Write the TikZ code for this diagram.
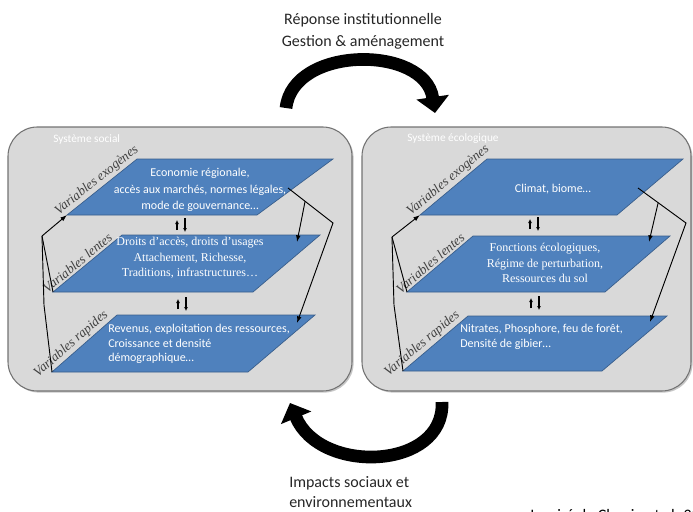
\documentclass[tikz,border=0pt]{standalone}
\usepackage{fontspec}
\setmainfont{Carlito}
\newfontfamily\tnr{Liberation Serif}
\usepackage{xcolor}
\usetikzlibrary{calc,arrows.meta,shadows}

\definecolor{panelgray}{RGB}{217,217,217}
\definecolor{planblue}{RGB}{79,129,189}
\definecolor{planedge}{RGB}{56,93,138}
\definecolor{labgray}{RGB}{38,38,38}

\begin{document}
\begin{tikzpicture}[x=0.75pt,y=-0.75pt,
  panel/.style={draw=black!55,fill=panelgray,rounded corners=22pt,line width=0.8pt,
    drop shadow={shadow xshift=1.2pt,shadow yshift=-1.2pt,opacity=0.45}},
  plan/.style={fill=planblue,draw=planedge,line width=0.5pt},
  pltext/.style={text=white,font=\fontsize{9}{12.4}\selectfont,align=center,inner sep=0pt},
  plserif/.style={text=white,font=\tnr\fontsize{9}{11.5}\selectfont,align=center,inner sep=0pt},
  varlab/.style={text=black!75,font=\tnr\itshape\fontsize{10}{11}\selectfont,inner sep=1.5pt},
  systitle/.style={text=white,font=\fontsize{8.5}{9}\selectfont,anchor=west,inner sep=0pt},
  link/.style={line width=0.7pt},
  linkto/.style={link,-{Latex[length=5pt,width=3.5pt]}},
  updown/.style={line width=1.1pt,-{Latex[length=3pt,width=3pt]}},
  bigarrow/.style={line width=9.5pt,-{Triangle[width=24pt,length=12pt]}},
  outlab/.style={text=labgray,font=\fontsize{12}{16.5}\selectfont,inner sep=0pt}]
\useasboundingbox (0,0) rectangle (693,511);
\clip (0,0) rectangle (693,511);

% panels
\draw[panel] (8,127) rectangle (352,391);
\draw[panel] (362,127) rectangle (691,391);
\node[systitle] (soc) at (53,139) {Système social};
\node[systitle] (eco) at (407,139) {Système écologique};

% social planes
\coordinate (st-bl) at (67,215);  \coordinate (st-br) at (257,215);
\coordinate (st-tr) at (333,159); \coordinate (st-tl) at (137,159);
\coordinate (sm-bl) at (53,292);  \coordinate (sm-br) at (253,292);
\coordinate (sm-tr) at (320,235); \coordinate (sm-tl) at (122,235);
\coordinate (sr-bl) at (52,372);  \coordinate (sr-br) at (248,372);
\coordinate (sr-tr) at (315,315); \coordinate (sr-tl) at (117,315);
\filldraw[plan] (st-bl) -- (st-br) -- (st-tr) -- (st-tl) -- cycle;
\filldraw[plan] (sm-bl) -- (sm-br) -- (sm-tr) -- (sm-tl) -- cycle;
\filldraw[plan] (sr-bl) -- (sr-br) -- (sr-tr) -- (sr-tl) -- cycle;

% ecological planes
\coordinate (et-bl) at (420,215); \coordinate (et-br) at (617,215);
\coordinate (et-tr) at (683,159); \coordinate (et-tl) at (487,159);
\coordinate (em-bl) at (407,292); \coordinate (em-br) at (605,292);
\coordinate (em-tr) at (670,236); \coordinate (em-tl) at (473,236);
\coordinate (er-bl) at (403,371); \coordinate (er-br) at (602,371);
\coordinate (er-tr) at (667,316); \coordinate (er-tl) at (468,316);
\filldraw[plan] (et-bl) -- (et-br) -- (et-tr) -- (et-tl) -- cycle;
\filldraw[plan] (em-bl) -- (em-br) -- (em-tr) -- (em-tl) -- cycle;
\filldraw[plan] (er-bl) -- (er-br) -- (er-tr) -- (er-tl) -- cycle;

% labels along the planes
\path (st-bl) -- (st-tl) node[midway,sloped,above,varlab] {Variables exogènes};
\path (sm-bl) -- (sm-tl) node[pos=0.42,sloped,above,varlab] {Variables lentes};
\path (sr-bl) -- (sr-tl) node[pos=0.38,sloped,above,varlab] {Variables rapides};
\path (et-bl) -- (et-tl) node[midway,sloped,above,varlab] {Variables exogènes};
\path (em-bl) -- (em-tl) node[pos=0.42,sloped,above,varlab] {Variables lentes};
\path (er-bl) -- (er-tl) node[pos=0.38,sloped,above,varlab] {Variables rapides};

% texts in the planes
\node[pltext] (st-txt) at (200,190) {Economie régionale,\\accès aux marchés, normes légales,\\mode de gouvernance…};
\node[plserif] (sm-txt) at (190,258) {Droits d’accès, droits d’usages\\Attachement, Richesse,\\Traditions, infrastructures…};
\node[pltext,align=left,anchor=north west,font=\fontsize{9}{10.8}\selectfont] (sr-txt) at (108,324) {Revenus, exploitation des ressources,\\Croissance et densité\\démographique…};
\node[pltext] (et-txt) at (553,189) {Climat, biome…};
\node[plserif] (em-txt) at (545,263) {Fonctions écologiques,\\Régime de perturbation,\\Ressources du sol};
\node[pltext,align=left,anchor=north west,font=\fontsize{9}{10.8}\selectfont] (er-txt) at (460,324) {Nitrates, Phosphore, feu de forêt,\\Densité de gibier…};

% up and down between planes
\foreach \px/\py in {181/225, 182/304, 534/224, 535/303} {
  \draw[updown] (\px-4,\py+5) -- ++(0,-10);
  \draw[updown] (\px+4,\py-7) -- ++(0,14);
}

% feedback on the left of each system
\coordinate (sj) at (42,236);  \coordinate (sk) at (44,305);
\draw[linkto] (sj) -- (st-bl);
\draw[link] (sj) -- (sm-bl);
\draw[link] (sj) -- (sk) -- (sr-bl);
\coordinate (ej) at (392,237); \coordinate (ek) at (394,305);
\draw[linkto] (ej) -- (et-bl);
\draw[link] (ej) -- (em-bl);
\draw[link] (ej) -- (ek) -- (er-bl);

% cascade on the right of each system
\coordinate (sa) at (288,188); \coordinate (sb) at (333,223);
\coordinate (sm-in) at (297,242); \coordinate (sr-in) at (297,323);
\draw[linkto] (sa) -- (sb) -- (sr-in);
\draw[linkto] ($(sa)!0.38!(sb)$) -- (sm-in);
\coordinate (ea) at (638,188); \coordinate (eb) at (686,223);
\coordinate (em-in) at (649,242); \coordinate (er-in) at (650,322);
\draw[linkto] (ea) -- (eb) -- (er-in);
\draw[linkto] ($(ea)!0.42!(eb)$) -- (em-in);

% big arrows
\coordinate (top-a) at (286,108); \coordinate (top-b) at (435,113);
\draw[bigarrow] (top-a) .. controls (293,45) and (425,45) .. (top-b);
\coordinate (bot-a) at (442,402); \coordinate (bot-b) at (290,403);
\draw[bigarrow] (bot-a) .. controls (445,470) and (320,475) .. (bot-b);

\node[outlab,align=center] (resp) at (363,31) {Réponse institutionnelle\\Gestion \& aménagement};
\node[outlab,align=left,font=\fontsize{12}{15}\selectfont,anchor=west] (imp) at (289,492) {Impacts sociaux et\\environnementaux};
\node[outlab,anchor=base west,text=black] (src) at (530,520) {Inspiré de Chapin et al. 2009};
\end{tikzpicture}
\end{document}
